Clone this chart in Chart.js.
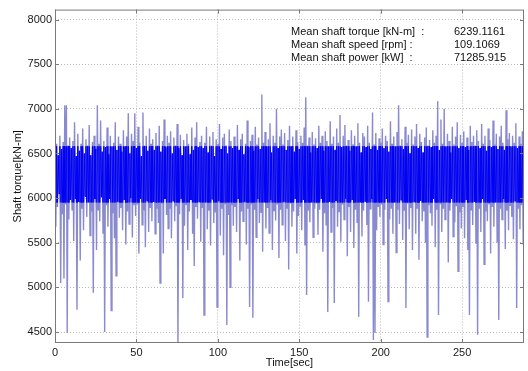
<!DOCTYPE html>
<html>
<head>
<meta charset="utf-8">
<title>Shaft torque</title>
<script src="https://cdn.jsdelivr.net/npm/chart.js@4.4.1/dist/chart.umd.min.js"></script>
<style>
  html, body { margin: 0; padding: 0; background: #fff; }
  canvas { display: block; }
</style>
</head>
<body>
<canvas id="torqueChart" width="528" height="371"></canvas>
<script>
// readings every half second, kN-m (peaks and troughs)
const sampleStep = 0.5;
const torque = [
    6520,5680, 6610,5900, 6480,6050, 6700,5050, 6550,5820, 6630,5100, 7040,5930, 7040,4490, 6590,5760, 6680,5980,
    6560,5870, 6640,5520, 6850,5990, 6470,4750, 6720,5960, 6530,5300, 6610,5880, 6780,5640, 6500,6020, 6660,5790,
    6590,5950, 6820,5580, 6480,5850, 6630,4940, 6700,5990, 6550,5420, 7040,5870, 6610,5740, 6870,6010, 6520,5610,
    6640,4500, 6570,5920, 6790,5680, 6490,5990, 6700,4740, 6580,5830, 6620,5550, 6850,5130, 6540,5960, 6690,5780,
    6610,5890, 6520,5640, 6760,5980, 6580,5480, 6690,5850, 6950,5710, 6500,6000, 6720,5560, 6640,5920, 6950,5800,
    6560,5930, 6800,5380, 6620,5990, 6470,5700, 6960,5860, 6590,5450, 6700,5970, 6530,5620, 6780,5890, 6610,5740,
    6660,5960, 6540,5600, 6730,5880, 6590,5720, 6810,5050, 6520,5940, 6640,5380, 6880,5990, 6570,5810, 6700,5660,
    6620,5880, 6750,5550, 6500,5970, 6680,5740, 6590,5910, 6830,4360, 6560,5820, 6710,5990, 6480,4880, 6650,5690,
    6580,5930, 6720,5420, 6610,5850, 6490,5980, 6790,5600, 6540,5240, 6680,5900, 6850,5770, 6570,5960, 6630,5510,
    6700,5890, 6560,4690, 6620,5950, 6800,5650, 6510,5860, 6690,5470, 6590,5990, 6740,5720, 6470,5840, 6660,4780,
    6610,5970, 6830,5580, 6550,5880, 6680,5360, 6720,5940, 6590,4580, 6500,5810, 6770,5000, 6640,5920, 6560,5690,
    6690,5900, 6580,5620, 6820,5990, 6540,5300, 6660,5850, 6720,5740, 6490,5960, 6610,5480, 6870,5880, 6570,4780,
    6640,5930, 6710,4660, 6530,5870, 6800,5560, 6600,5990, 6680,5720, 6550,5840, 7160,5400, 6620,5950, 6740,5660,
    6580,5890, 6660,5610, 6840,5980, 6510,5420, 6700,5860, 6620,5750, 7000,5930, 6560,5330, 6690,5870, 6770,5700,
    6600,5960, 6730,5520, 6540,5890, 6650,5200, 6810,5940, 6580,5680, 6690,5850, 6520,5990, 6760,5380, 6630,5800,
    6550,5910, 6700,5640, 6620,5980, 6790,5470, 7130,4915, 6590,5860, 6680,5730, 6510,5950, 6740,5560, 6600,5880,
    6670,5940, 6560,5590, 6810,5870, 6620,5990, 6700,5400, 6530,5830, 6750,5700, 6640,4725, 6580,5960, 6860,5620,
    6610,5890, 6690,4825, 6540,5970, 6780,5680, 6620,5850, 6930,5510, 6570,5930, 6700,5760, 6820,5990, 6590,5350,
    6650,5900, 6530,5620, 6760,5980, 6600,5440, 6700,5870, 6580,5730, 6840,4670, 6620,5950, 6510,5570, 6730,5860,
    6690,5960, 6570,5700, 6810,4840, 6620,5880, 6550,5990, 6960,4410, 6600,4490, 6730,5640, 6540,5900, 6670,5790,
    6620,5930, 6780,5480, 6560,5870, 6700,5990, 6640,4840, 6520,5760, 6860,5880, 6610,5600, 6690,5950, 6580,5390,
    6740,5870, 7040,5710, 6590,5980, 6660,5530, 6550,5860, 6800,4770, 6620,5940, 6710,5650, 6500,5890, 6770,5420,
    6600,5960, 6690,5600, 6830,5880, 6560,5310, 6720,5970, 6630,5740, 6510,5850, 6680,5500, 6790,4445, 6590,5920,
    6650,5830, 6570,5690, 6760,5990, 6620,5450, 6700,5870, 7085,4690, 6540,5940, 6880,5620, 6610,5880, 7000,5760,
    6580,5950, 6720,5280, 6640,5860, 6510,5990, 6800,5570, 6600,5730, 6690,5910, 6850,5180, 6560,5840, 6710,5660,
    6620,5900, 6750,5550, 6570,5980, 6680,5420, 6540,4690, 6810,5870, 6630,5700, 6700,5960, 6590,5490, 6760,4470,
    6640,5880, 6560,5620, 6830,5990, 6610,5260, 6700,5850, 6530,5740, 6780,5930, 6650,5380, 6570,5900, 6870,5680,
    6600,5950, 6720,5510, 6550,4635, 6690,5880, 6810,5760, 6620,5990, 6540,5430, 6985,5860, 6660,5640, 6730,5920,
    6580,5790, 6700,5540, 6620,5970, 6840,4770, 6560,5880, 6690,5650, 6610,5920, 6750,5480, 6640
];
const time = torque.map((v, i) => i * sampleStep);

const xTicks = [0, 50, 100, 150, 200, 250];
const yTicks = [4500, 5000, 5500, 6000, 6500, 7000, 7500, 8000];

const statLabels = ['Mean shaft torque [kN-m]  :', 'Mean shaft speed [rpm] :', 'Mean shaft power [kW]  :'];
const statValues = ['6239.1161', '109.1069', '71285.915'];

// where the trace is so dense it reads as solid blue
const denseBand = [5950, 6580];

const FONT = '"Liberation Sans", Arial, sans-serif';
Chart.defaults.font.family = FONT;
Chart.defaults.font.size = 11;
Chart.defaults.color = '#1a1a1a';

const toPoints = () => torque.map((v, i) => ({ x: time[i], y: v }));
const fixedTicks = list => scale => { scale.ticks = list.map(v => ({ value: v })); };

// clip the dark copy of the trace to the dense band
const denseClip = {
    id: 'denseClip',
    beforeDatasetDraw(chart, args) {
        if (args.index !== 0) return;
        const { ctx, chartArea: a, scales: { y } } = chart;
        const top = y.getPixelForValue(denseBand[1]);
        const bottom = y.getPixelForValue(denseBand[0]);
        ctx.save();
        ctx.beginPath();
        ctx.rect(a.left, top, a.right - a.left, bottom - top);
        ctx.clip();
    },
    afterDatasetDraw(chart, args) {
        if (args.index === 0) chart.ctx.restore();
    }
};

// box round the axes, inward ticks, and the stats text
const boxAndStats = {
    id: 'boxAndStats',
    afterDatasetsDraw(chart) {
        const { ctx, chartArea: a, scales: { x, y } } = chart;
        ctx.save();

        ctx.fillStyle = '#fff';
        ctx.fillRect(285, 21, 236, 42);

        ctx.strokeStyle = '#7a7a7a';
        ctx.lineWidth = 1;
        ctx.strokeRect(a.left + 0.5, a.top + 0.5, a.right - a.left - 1, a.bottom - a.top - 1);

        ctx.beginPath();
        x.ticks.forEach(t => {
            const px = Math.round(x.getPixelForValue(t.value)) + 0.5;
            ctx.moveTo(px, a.bottom); ctx.lineTo(px, a.bottom - 4);
            ctx.moveTo(px, a.top); ctx.lineTo(px, a.top + 4);
        });
        y.ticks.forEach(t => {
            const py = Math.round(y.getPixelForValue(t.value)) + 0.5;
            ctx.moveTo(a.left, py); ctx.lineTo(a.left + 4, py);
            ctx.moveTo(a.right, py); ctx.lineTo(a.right - 4, py);
        });
        ctx.stroke();

        ctx.fillStyle = '#111';
        ctx.font = '11px ' + FONT;
        ctx.textBaseline = 'middle';
        statLabels.forEach((label, i) => {
            const rowY = 32 + i * 12.8;
            ctx.fillText(label, 291, rowY);
            ctx.fillText(statValues[i], 454, rowY);
        });
        ctx.restore();
    }
};

document.addEventListener('DOMContentLoaded', function() {
    const ctx = document.getElementById('torqueChart').getContext('2d');

    new Chart(ctx, {
        type: 'line',
        data: {
            datasets: [{
                label: 'Shaft torque (dense)',
                data: toPoints(),
                borderColor: '#0000f5',
                borderWidth: 1,
                pointRadius: 0,
                tension: 0,
                order: 0
            },
            {
                label: 'Shaft torque',
                data: toPoints(),
                borderColor: '#8a8ad0',
                borderWidth: 1.4,
                pointRadius: 0,
                tension: 0,
                order: 1
            }]
        },
        options: {
            responsive: false,
            animation: false,
            parsing: false,
            layout: {
                padding: { top: 9, right: 4, left: 0, bottom: 0 }
            },
            plugins: {
                legend: { display: false },
                tooltip: { enabled: false }
            },
            scales: {
                x: {
                    type: 'linear',
                    min: 0,
                    max: 288,
                    afterFit: s => { s.height = 28; },
                    afterBuildTicks: fixedTicks(xTicks),
                    ticks: {
                        padding: 3,
                        maxRotation: 0,
                        callback: v => String(v)
                    },
                    grid: {
                        color: '#b8b8b8',
                        drawTicks: false
                    },
                    border: { display: false, dash: [1, 2] },
                    title: {
                        display: true,
                        text: 'Time[sec]',
                        color: '#111',
                        font: { size: 11 },
                        padding: { top: 0, bottom: 1 }
                    }
                },
                y: {
                    min: 4377,
                    max: 8112,
                    afterFit: s => { s.width = 55; },
                    afterBuildTicks: fixedTicks(yTicks),
                    ticks: {
                        padding: 3,
                        callback: v => String(v)
                    },
                    grid: {
                        color: '#b8b8b8',
                        drawTicks: false
                    },
                    border: { display: false, dash: [1, 2] },
                    title: {
                        display: true,
                        text: 'Shaft torque[kN-m]',
                        color: '#111',
                        font: { size: 11 },
                        padding: { top: 11, bottom: 0 }
                    }
                }
            }
        },
        plugins: [denseClip, boxAndStats]
    });
});
</script>
</body>
</html>
